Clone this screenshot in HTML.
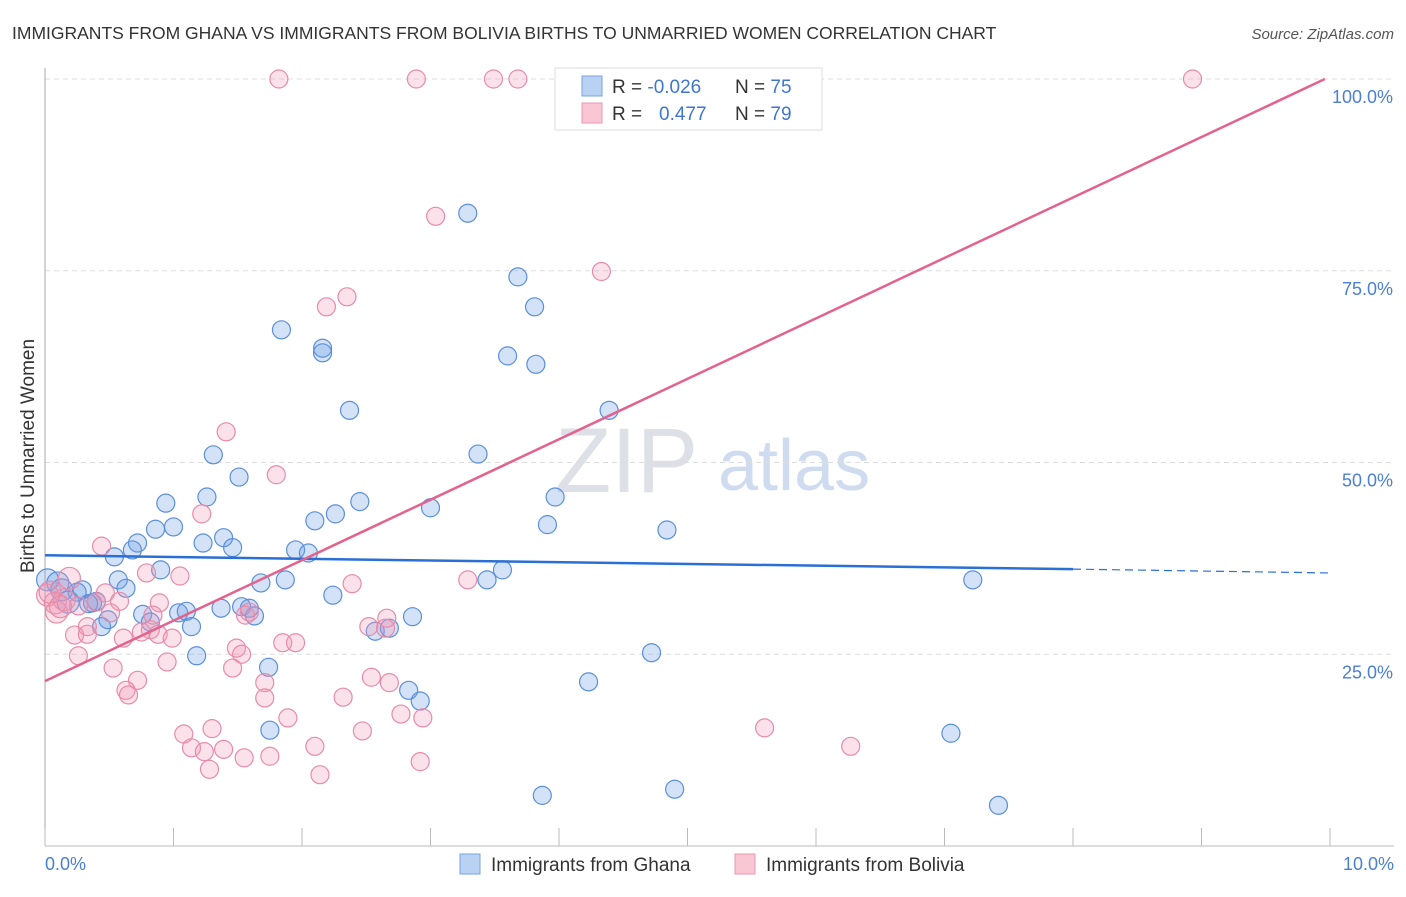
<!DOCTYPE html>
<html><head><meta charset="utf-8"><style>
body{margin:0;background:#fff;font-family:"Liberation Sans",sans-serif}
svg text{font-family:"Liberation Sans",sans-serif}
</style></head><body>
<svg id="chart" width="1406" height="892">
<text x="12" y="39" font-size="17.5" fill="#333">IMMIGRANTS FROM GHANA VS IMMIGRANTS FROM BOLIVIA BIRTHS TO UNMARRIED WOMEN CORRELATION CHART</text>
<text x="1394" y="39" font-size="15" fill="#555" text-anchor="end" font-style="italic">Source: ZipAtlas.com</text>
<text x="555" y="492" font-size="92" fill="#dde0e6" font-family="Liberation Serif">ZIP</text>
<text x="718" y="490" font-size="72" fill="#cfdcf0">atlas</text>
<g id="grid"></g><g id="axes"></g><g id="pts"></g><g id="trend"></g>
<text transform="translate(34,456) rotate(-90)" font-size="19" fill="#333" text-anchor="middle">Births to Unmarried Women</text>
<text x="45" y="870" font-size="18" fill="#4a7fd4">0.0%</text>
<text x="1394" y="870" font-size="18" fill="#4a7fd4" text-anchor="end">10.0%</text>
<g>
<rect x="555" y="68" width="267" height="62" fill="#fff" stroke="#ddd"/>
<rect x="582" y="76" width="20" height="20" fill="#b9d1f2" stroke="#7aa3e0"/>
<rect x="582" y="103" width="20" height="20" fill="#f9c6d4" stroke="#ea97b0"/>
<text x="612" y="93" font-size="19" fill="#333">R = <tspan fill="#3f76d0">-0.026</tspan><tspan x="735">N = </tspan><tspan fill="#3f76d0">75</tspan></text>
<text x="612" y="120" font-size="19" fill="#333">R = <tspan x="659" fill="#3f76d0">0.477</tspan><tspan x="735">N = </tspan><tspan fill="#3f76d0">79</tspan></text>
</g>
<g>
<rect x="460" y="854" width="20" height="20" fill="#b9d1f2" stroke="#7aa3e0"/>
<text x="491" y="871" font-size="19" fill="#333">Immigrants from Ghana</text>
<rect x="735" y="854" width="20" height="20" fill="#f9c6d4" stroke="#ea97b0"/>
<text x="766" y="871" font-size="19" fill="#333">Immigrants from Bolivia</text>
</g>
</svg>
<script>
const yTicks=[25,50,75,100];
const yTickLabels=["25.0%","50.0%","75.0%","100.0%"];
const xTicks=[0,1,2,3,4,5,6,7,8,9,10];
const ghanaX=[3.29,3.68,3.81,1.84,2.16,2.16,3.60,3.82,2.37,4.39,1.31,3.37,1.51,3.97,0.94,1.26,2.45,3.00,2.26,2.10,3.91,4.84,0.86,1.00,1.23,1.39,1.46,0.72,0.68,0.54,1.95,2.05,0.90,0.57,0.63,1.68,1.87,3.44,3.56,7.22,0.02,0.10,0.13,0.29,0.25,0.18,0.37,0.40,0.34,0.76,1.04,1.10,0.82,1.37,1.53,1.59,1.63,2.24,2.57,2.68,2.86,0.44,0.49,1.14,1.18,4.72,1.74,4.23,2.83,2.92,1.75,7.05,3.87,4.90,7.42];
const ghanaY=[82.5,74.2,70.3,67.3,64.9,64.3,63.9,62.8,56.8,56.8,51.0,51.1,48.1,45.5,44.7,45.5,44.9,44.1,43.3,42.4,41.9,41.2,41.3,41.6,39.5,40.2,38.9,39.5,38.6,37.7,38.6,38.2,36.0,34.7,33.6,34.3,34.7,34.7,36.0,34.7,34.7,34.3,33.4,33.4,33.1,31.8,31.7,31.9,31.6,30.2,30.4,30.6,29.2,31.0,31.2,31.0,30.0,32.7,28.0,28.4,29.9,28.6,29.5,28.6,24.8,25.2,23.3,21.4,20.3,18.9,15.1,14.7,6.6,7.4,5.3];
const boliviaX=[1.82,2.89,3.49,3.68,4.05,4.93,8.93,3.04,4.33,2.19,2.35,1.41,1.80,1.22,0.44,0.79,1.05,2.39,3.29,0.02,0.08,0.09,0.19,0.15,0.26,0.40,0.58,0.47,0.51,0.89,0.84,0.23,0.33,0.33,0.61,0.82,0.88,0.99,0.75,1.59,1.56,1.49,1.53,1.85,1.95,2.52,2.66,2.65,0.26,0.53,0.72,0.95,0.63,0.65,1.46,1.71,1.71,2.54,2.68,2.32,1.89,2.77,2.94,1.08,1.30,1.14,1.24,1.39,1.55,1.75,1.28,2.10,2.14,2.47,2.92,5.60,6.27,0.04,0.12];
const boliviaY=[100,100,100,100,100,100,100,82.1,74.9,70.3,71.6,54.0,48.4,43.3,39.1,35.6,35.2,34.2,34.7,32.7,31.7,30.5,34.9,32.1,31.3,31.8,31.9,33.0,30.4,31.7,30.1,27.5,28.6,27.6,27.1,28.2,27.6,27.1,27.9,30.5,30.1,25.8,25.0,26.5,26.5,28.6,29.7,28.4,24.8,23.2,21.6,24.0,20.3,19.7,23.2,21.3,19.3,22.0,21.3,19.4,16.7,17.2,16.7,14.6,15.3,12.8,12.3,12.6,11.5,11.7,10.0,13.0,9.3,15.0,11.0,15.4,13.0,33.1,31.2];
const ghanaTrend=[37.9,36.1,35.6]; // at x=0, 8, 10
const boliviaTrend=[21.5,100.0];   // at x=0, 9.96
const NS="http://www.w3.org/2000/svg";
const X=v=>45+v*128.5, Y=v=>846-v*7.67;
function mk(tag,attrs,parent){const e=document.createElementNS(NS,tag);for(const k in attrs)e.setAttribute(k,attrs[k]);parent.appendChild(e);return e;}
const grid=document.getElementById('grid'),axes=document.getElementById('axes'),pts=document.getElementById('pts'),tr=document.getElementById('trend');
yTicks.forEach((t,i)=>{
 const l=mk('line',{x1:45,x2:1394,y1:Y(t),y2:Y(t),stroke:'#ddd','stroke-dasharray':'5,4'},grid);
 
 
 const tx=mk('text',{x:1393,y:Y(t)+24,'font-size':18,fill:'#4a7fd4','text-anchor':'end'},grid);
 tx.textContent=yTickLabels[i];
 
 
});
const ax=mk('line',{x1:45,x2:1394,y1:846,y2:846,stroke:'#bbb'},axes);


const ay=mk('line',{x1:45,x2:45,y1:68,y2:846,stroke:'#aaa'},axes);


xTicks.forEach(t=>{
 const l=mk('line',{x1:X(t),x2:X(t),y1:828,y2:846,stroke:'#bbb'},axes);
 
 
});
function dots(xs,ys,fill,stroke,name){
 xs.forEach((x,i)=>{
  const r=x<0.2?11:9;
  const c=mk('circle',{cx:X(x),cy:Y(ys[i]),r:r,fill:fill,stroke:stroke,'stroke-width':1.2},pts);
  
  
 });
}
dots(ghanaX,ghanaY,'rgba(110,160,230,0.3)','#5b8fdb','ghana-point');
dots(boliviaX,boliviaY,'rgba(240,150,180,0.28)','#e88ba8','bolivia-point');
const g1=mk('line',{x1:X(0),y1:Y(ghanaTrend[0]),x2:X(8),y2:Y(ghanaTrend[1]),stroke:'#2a6fd6','stroke-width':2.5},tr);


const g2=mk('line',{x1:X(8),y1:Y(ghanaTrend[1]),x2:X(10),y2:Y(ghanaTrend[2]),stroke:'#2a6fd6','stroke-width':1.2,'stroke-dasharray':'8,5'},tr);


const b1=mk('line',{x1:X(0),y1:Y(boliviaTrend[0]),x2:X(9.96),y2:Y(boliviaTrend[1]),stroke:'#e3628e','stroke-width':2.5},tr);


</script>
</body></html>
